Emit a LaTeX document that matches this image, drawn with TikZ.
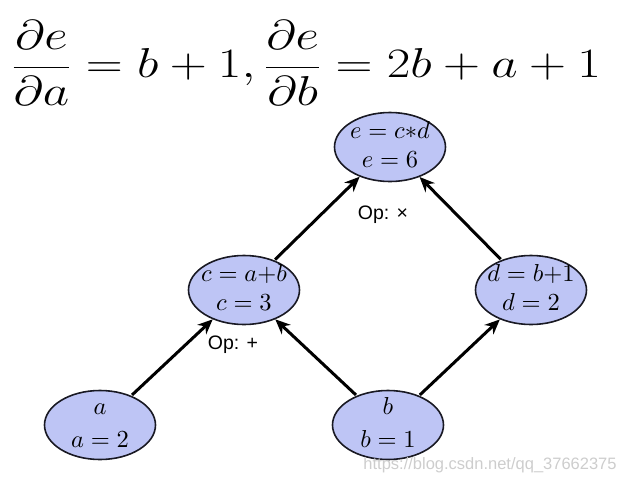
\documentclass[tikz,border=0pt]{standalone}
\usepackage{fontspec}
\newfontfamily\labelfont{Liberation Sans}
\usetikzlibrary{shapes.geometric,arrows.meta}
\definecolor{nodefill}{RGB}{190,197,245}
\definecolor{nodeline}{RGB}{25,25,35}
\definecolor{wmark}{RGB}{205,205,205}
\newcommand{\twolines}[3][0pt]{\scalebox{2.45}{\begin{tabular}{@{}c@{}}#2\\[#1]#3\end{tabular}}}
\tikzset{
  var/.style={ellipse, draw=nodeline, line width=1.6pt, fill=nodefill, minimum width=111pt, minimum height=69pt, inner sep=0pt},
  edgearrow/.style={line width=3pt, -{Stealth[length=15pt,width=13pt]}, shorten <=1pt},
  oplabel/.style={font=\labelfont\fontsize{19.5}{22}\selectfont}
}
\begin{document}
\begin{tikzpicture}[x=1pt,y=1pt]
\useasboundingbox (0,0) rectangle (629,-483);
\node (formula) at (306,-63) {\scalebox{2.06}[1.68]{\fontsize{24.88}{30}\selectfont$\displaystyle \frac{\partial e}{\partial a}=b+1,\frac{\partial e}{\partial b}=2b+a+1$}};
\node[var, label={center:\twolines{$e=c{*}d$}{$e=6$}}] (e) at (390,-147) {};
\node[var, label={center:\twolines{$c=a{+}b$}{$c=3$}}] (c) at (244,-290) {};
\node[var, label={center:\twolines{$d=b{+}1$}{$d=2$}}] (d) at (531,-290) {};
\node[var, label={center:\twolines[1.5pt]{$a$}{$a=2$}}] (a) at (100,-425) {};
\node[var, label={center:\twolines[1.5pt]{$b$}{$b=1$}}] (b) at (388,-425) {};
\draw[edgearrow] (a) -- (c);
\draw[edgearrow] (b) -- (c);
\draw[edgearrow] (b) -- (d);
\draw[edgearrow] (c) -- (e);
\draw[edgearrow] (d) -- (e);
\node[oplabel] (opx) at (383,-215) {Op: ×};
\node[oplabel] (opp) at (233,-345) {Op: +};
\node[font=\labelfont\fontsize{16.5}{18}\selectfont, text=wmark] (wm) at (490,-465) {https://blog.csdn.net/qq\_37662375};
\end{tikzpicture}
\end{document}
